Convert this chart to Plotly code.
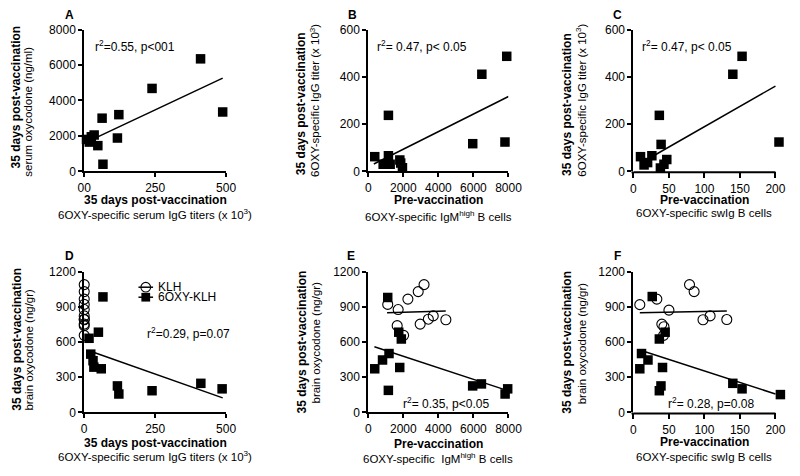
import plotly.graph_objects as go

# ---------------- data ----------------
A_x = [488, 410, 239, 122, 117, 63, 66, 48, 35, 25, 18, 8]
A_y = [3350, 6350, 4680, 3200, 1880, 3000, 400, 1450, 2050, 1950, 1650, 1800]
A_fit_x = [42, 488]
A_fit_y = [1900, 5260]

B_x = [7900, 6480, 5960, 7800, 1150, 370, 1150, 850, 1250, 1800, 1850, 1950]
B_y = [487, 411, 117, 124, 237, 62, 66, 30, 30, 48, 35, 15]
B_fit_x = [317, 8000]
B_fit_y = [31, 317]

C_x = [153, 140, 205, 39, 36.5, 10, 26, 15, 20, 38, 43, 47]
C_y = [487, 411, 124, 114, 237, 62, 66, 27, 37, 14, 30, 50]
C_fit_x = [18, 200]
C_fit_y = [48, 361]

D_oxy_x = [486, 411, 239, 122, 117, 66, 60, 50, 34, 31, 23, 17]
D_oxy_y = [201, 248, 185, 157, 226, 985, 372, 684, 386, 441, 497, 632]
D_klh_x = [0, 0, 0, 0, 0, 0, 0, 0, 0, 0, 0]
D_klh_y = [1090, 1030, 966, 921, 877, 823, 795, 790, 753, 740, 657]
D_fit_x = [30, 488]
D_fit_y = [515, 124]

E_oxy_x = [1110, 1739, 1887, 370, 814, 1184, 1795, 1147, 5957, 6456, 7807, 7955]
E_oxy_y = [980, 684, 626, 372, 447, 502, 383, 188, 226, 243, 157, 201]
E_klh_x = [3183, 2850, 2261, 1111, 1706, 4428, 3706, 3428, 2961, 1650, 2017]
E_klh_y = [1090, 1030, 966, 921, 877, 790, 823, 795, 753, 740, 657]
E_fit_klh_x = [1073, 4421]
E_fit_klh_y = [850, 864]
E_fit_oxy_x = [350, 7955]
E_fit_oxy_y = [560, 186]

F_oxy_x = [26.5, 44.7, 36.5, 9, 20.5, 11.4, 41, 36.5, 38.8, 140, 153, 207]
F_oxy_y = [988, 684, 626, 372, 447, 502, 383, 185, 226, 248, 201, 152]
F_klh_x = [79, 85.5, 33, 9, 50, 131.5, 108, 98, 40, 43, 42.5]
F_klh_y = [1090, 1030, 966, 919, 872, 792, 823, 790, 753, 731, 657]
F_fit_klh_x = [9, 131.5]
F_fit_klh_y = [850, 864]
F_fit_oxy_x = [10, 200]
F_fit_oxy_y = [530, 157]

ticks_500 = [0, 250, 500]
ticks_8000 = [0, 2000, 4000, 6000, 8000]
ticks_200 = [0, 50, 100, 150, 200]
yticks_A = [0, 2000, 4000, 6000, 8000]
yticks_600 = [0, 200, 400, 600]
yticks_1200 = [0, 300, 600, 900, 1200]

A_xticktext = ["00", "250", "500"]

stats = ["r<sup>2</sup>=0.55, p&lt;001", "r<sup>2</sup>= 0.47, p&lt; 0.05", "r<sup>2</sup>= 0.47, p&lt; 0.05",
         "r<sup>2</sup>=0.29, p=0.07", "r<sup>2</sup>= 0.35, p&lt;0.05", "r<sup>2</sup>= 0.28, p=0.08"]

legend_labels = ["KLH", "6OXY-KLH"]

# ---------------- layout helpers ----------------
W, H = 800, 476
FONT = "Liberation Sans, Arial, Helvetica, sans-serif"


def px(x):
    return x / W


def py(y):
    return 1 - y / H


# xr: displayed axis range; xline: the span the drawn x axis line covers
panels = [
    dict(n="", letter="A", lx=64, ly=8.5, xd=(79.3, 225), yd=(23.3, 169.3), xr=[0, 500], xline=None, yr=[0, 8000],
         xt=ticks_500, xtt=A_xticktext, yt=yticks_A,
         xb=("35 days post-vaccination", 152, 199), xreg=("6OXY-specific serum IgG titers (x 10<sup>3</sup>)", 152, 213),
         yb=("35 days post-vaccination", 9, 92.5), yreg=("serum oxycodone (ng/ml)", 22, 107.5),
         st=(stats[0], 30, 7085)),
    dict(n="2", letter="B", lx=354.5, ly=8, xd=(371, 515), yd=(23.3, 169.3), xr=[0, 8000], xline=None, yr=[0, 600],
         xt=ticks_8000, xtt=None, yt=yticks_600,
         xb=("Pre-vaccination", 443, 198.5), xreg=("6OXY-specific IgM<sup>high</sup> B cells", 443, 215),
         yb=("35 days post-vaccination", 302, 100), yreg=("6OXY-specific IgG titer (x 10<sup>3</sup>)", 316, 96),
         st=(stats[1], 390, 531)),
    dict(n="3", letter="C", lx=626.5, ly=8, xd=(643.3, 797.9), yd=(23.3, 169.3), xr=[0, 212], xline=200, yr=[0, 600],
         xt=ticks_200, xtt=None, yt=yticks_600,
         xb=("Pre-vaccination", 716, 198.5), xreg=("6OXY-specific swIg B cells", 716, 212),
         yb=("35 days post-vaccination", 575, 100), yreg=("6OXY-specific IgG titer (x 10<sup>3</sup>)", 590, 96),
         st=(stats[2], 9, 531)),
    dict(n="4", letter="D", lx=64, ly=257, xd=(79.3, 225), yd=(272.7, 417.7), xr=[0, 500], xline=None, yr=[0, 1200],
         xt=ticks_500, xtt=None, yt=yticks_1200,
         xb=("35 days post-vaccination", 152, 448.7), xreg=("6OXY-specific serum IgG titers (x 10<sup>3</sup>)", 152, 463),
         yb=("35 days post-vaccination", 10, 342), yreg=("brain oxycodone (ng/gr)", 23, 352.5),
         st=(stats[3], 214, 676)),
    dict(n="5", letter="E", lx=353.5, ly=257, xd=(371, 515), yd=(272.7, 417.7), xr=[0, 8000], xline=None, yr=[0, 1200],
         xt=ticks_8000, xtt=None, yt=yticks_1200,
         xb=("Pre-vaccination", 443, 450), xreg=("6OXY-specific  IgM<sup>high</sup> B cells", 443, 465),
         yb=("35 days post-vaccination", 302.5, 345), yreg=("brain oxycodone (ng/gr)", 317, 346),
         st=(stats[4], 1890, 83)),
    dict(n="6", letter="F", lx=626.5, ly=257, xd=(643.3, 797.9), yd=(272.7, 417.7), xr=[0, 212], xline=200, yr=[0, 1200],
         xt=ticks_200, xtt=None, yt=yticks_1200,
         xb=("Pre-vaccination", 716, 448.5), xreg=("6OXY-specific swIg B cells", 716, 463.5),
         yb=("35 days post-vaccination", 575, 345), yreg=("brain oxycodone (ng/gr)", 590, 347),
         st=(stats[5], 45.8, 83)),
]

fig = go.Figure()

SQ = dict(symbol="square", size=9.5, color="black", line=dict(width=0))
CI = dict(symbol="circle-open", size=10, color="black", line=dict(width=1.1, color="black"))
LN = dict(color="black", width=1.5)


def add(x, y, n, mode, marker=None, line=None):
    kw = dict(x=x, y=y, mode=mode, xaxis="x" + n, yaxis="y" + n, showlegend=False,
              cliponaxis=False, hoverinfo="skip")
    if marker:
        kw["marker"] = marker
    if line:
        kw["line"] = line
    fig.add_trace(go.Scatter(**kw))


# Panel A, B, C
add(A_fit_x, A_fit_y, "", "lines", line=LN)
add(A_x, A_y, "", "markers", marker=SQ)
add(B_fit_x, B_fit_y, "2", "lines", line=LN)
add(B_x, B_y, "2", "markers", marker=SQ)
add(C_fit_x, C_fit_y, "3", "lines", line=LN)
add(C_x, C_y, "3", "markers", marker=SQ)
# Panel D
add(D_fit_x, D_fit_y, "4", "lines", line=LN)
add(D_klh_x, D_klh_y, "4", "markers", marker=CI)
add(D_oxy_x, D_oxy_y, "4", "markers", marker=SQ)
# Panel E
add(E_fit_klh_x, E_fit_klh_y, "5", "lines", line=LN)
add(E_fit_oxy_x, E_fit_oxy_y, "5", "lines", line=LN)
add(E_klh_x, E_klh_y, "5", "markers", marker=CI)
add(E_oxy_x, E_oxy_y, "5", "markers", marker=SQ)
# Panel F
add(F_fit_klh_x, F_fit_klh_y, "6", "lines", line=LN)
add(F_fit_oxy_x, F_fit_oxy_y, "6", "lines", line=LN)
add(F_klh_x, F_klh_y, "6", "markers", marker=CI)
add(F_oxy_x, F_oxy_y, "6", "markers", marker=SQ)

annotations = []
shapes = []
layout = dict(
    width=W, height=H, margin=dict(l=0, r=0, t=0, b=0),
    paper_bgcolor="white", plot_bgcolor="white",
    font=dict(family=FONT, size=12, color="black"),
    showlegend=False,
)

for p in panels:
    n = p["n"]
    manual_line = p["xline"] is not None
    xa = dict(domain=[px(p["xd"][0]), px(p["xd"][1])], range=p["xr"], anchor="y" + n,
              showline=not manual_line, linecolor="black", linewidth=2, ticks="outside",
              ticklen=6 if manual_line else 4,
              tickwidth=1.5, tickcolor="black", showgrid=False, zeroline=False,
              tickvals=p["xt"], tickfont=dict(size=12, family=FONT))
    if p["xtt"]:
        xa["ticktext"] = p["xtt"]
    ya = dict(domain=[py(p["yd"][1]), py(p["yd"][0])], range=p["yr"], anchor="x" + n,
              showline=True, linecolor="black", linewidth=2, ticks="outside", ticklen=4,
              tickwidth=1.5, tickcolor="black", showgrid=False, zeroline=False,
              tickvals=p["yt"], tickfont=dict(size=12, family=FONT))
    layout["xaxis" + n] = xa
    layout["yaxis" + n] = ya

    if manual_line:
        # axis line only spans 0..xline, as in the original figure
        ybot = py(p["yd"][1] + 1)
        shapes.append(dict(type="line", xref="x" + n, yref="paper", x0=0, x1=p["xline"], y0=ybot, y1=ybot,
                           line=dict(color="black", width=2), layer="above"))
        shapes.append(dict(type="line", xref="paper", yref="paper", x0=px(p["xd"][0] - 2), x1=px(p["xd"][0]),
                           y0=ybot, y1=ybot, line=dict(color="black", width=2), layer="above"))

    annotations.append(dict(text="<b>%s</b>" % p["letter"], x=px(p["lx"]), y=py(p["ly"]), xref="paper", yref="paper",
                            showarrow=False, xanchor="center", yanchor="middle", font=dict(size=12)))
    t, x, y = p["xb"]
    annotations.append(dict(text="<b>%s</b>" % t, x=px(x), y=py(y), xref="paper", yref="paper",
                            showarrow=False, xanchor="center", yanchor="middle", font=dict(size=12)))
    t, x, y = p["xreg"]
    annotations.append(dict(text=t, x=px(x), y=py(y), xref="paper", yref="paper",
                            showarrow=False, xanchor="center", yanchor="middle", font=dict(size=11.5)))
    t, x, y = p["yb"]
    annotations.append(dict(text="<b>%s</b>" % t, x=px(x), y=py(y), xref="paper", yref="paper", textangle=-90,
                            showarrow=False, xanchor="center", yanchor="middle", font=dict(size=12)))
    t, x, y = p["yreg"]
    annotations.append(dict(text=t, x=px(x), y=py(y), xref="paper", yref="paper", textangle=-90,
                            showarrow=False, xanchor="center", yanchor="middle", font=dict(size=11.5)))
    t, x, y = p["st"]
    annotations.append(dict(text=t, x=x, y=y, xref="x" + n, yref="y" + n,
                            showarrow=False, xanchor="left", yanchor="middle", font=dict(size=12)))

# Manual legend for panel D
leg_rows = [288.7, 299.0]
for i, lab in enumerate(legend_labels):
    yy = leg_rows[i]
    shapes.append(dict(type="line", xref="paper", yref="paper", x0=px(135), x1=px(150), y0=py(yy), y1=py(yy),
                       line=dict(color="black", width=1.5)))
    if i == 0:
        shapes.append(dict(type="circle", xref="paper", yref="paper", x0=px(137.5), x1=px(147.5),
                           y0=py(yy + 5), y1=py(yy - 5), line=dict(color="black", width=1.1),
                           fillcolor="rgba(0,0,0,0)"))
    else:
        shapes.append(dict(type="rect", xref="paper", yref="paper", x0=px(138), x1=px(147),
                           y0=py(yy + 4.5), y1=py(yy - 4.5), line=dict(width=0), fillcolor="black"))
    annotations.append(dict(text=lab, x=px(153), y=py(yy), xref="paper", yref="paper",
                            showarrow=False, xanchor="left", yanchor="middle", font=dict(size=12)))

layout["annotations"] = annotations
layout["shapes"] = shapes
fig.update_layout(**layout)
fig.write_html("out.html", config={"displayModeBar": False},
               post_script="document.body.style.margin='0';document.body.style.padding='0';")
